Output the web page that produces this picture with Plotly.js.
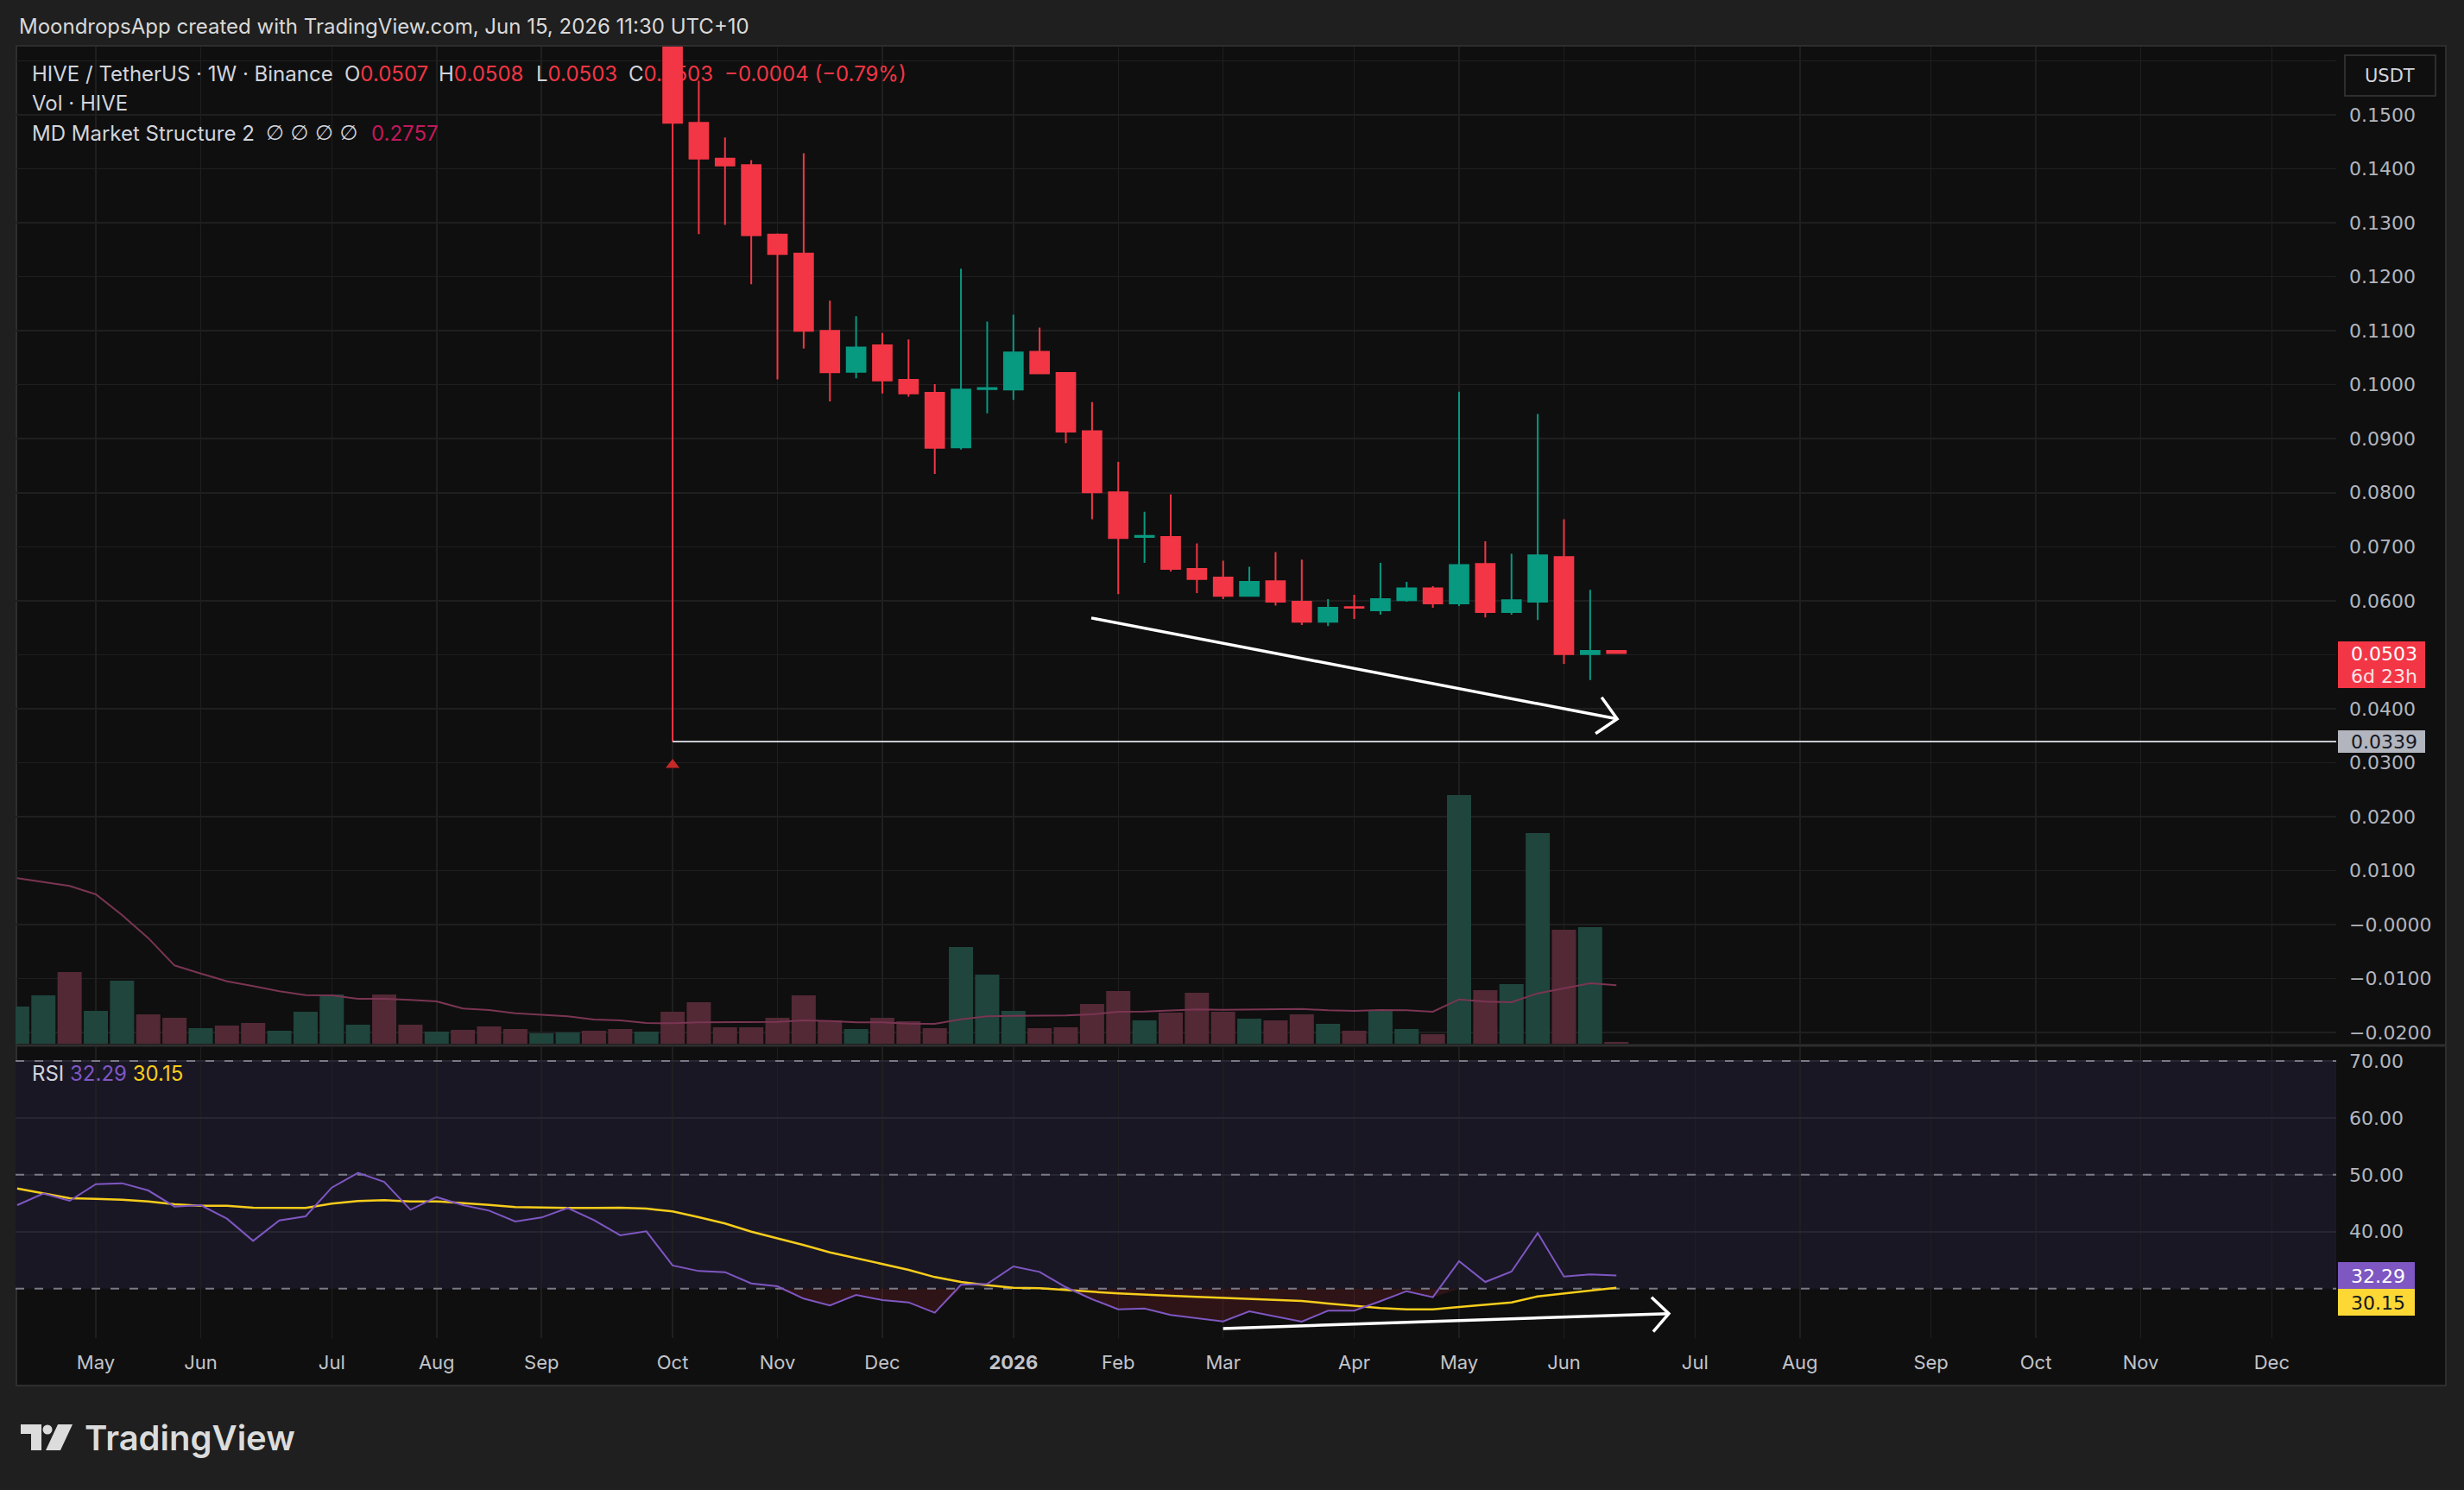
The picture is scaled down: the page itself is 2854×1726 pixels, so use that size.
<!DOCTYPE html>
<html><head><meta charset="utf-8">
<script src="https://cdn.plot.ly/plotly-3.0.1.min.js"></script>
<style>html,body{margin:0;padding:0;background:#1f1f1f;}#chart{width:2854px;height:1726px;}</style>
</head><body><div id="chart"></div>
<script>
// ---------- DATA ----------
const weeks = ["2025-04-14","2025-04-21","2025-04-28","2025-05-05","2025-05-12","2025-05-19","2025-05-26","2025-06-02","2025-06-09","2025-06-16","2025-06-23","2025-06-30","2025-07-07","2025-07-14","2025-07-21","2025-07-28","2025-08-04","2025-08-11","2025-08-18","2025-08-25","2025-09-01","2025-09-08","2025-09-15","2025-09-22","2025-09-29","2025-10-06","2025-10-13","2025-10-20","2025-10-27","2025-11-03","2025-11-10","2025-11-17","2025-11-24","2025-12-01","2025-12-08","2025-12-15","2025-12-22","2025-12-29","2026-01-05","2026-01-12","2026-01-19","2026-01-26","2026-02-02","2026-02-09","2026-02-16","2026-02-23","2026-03-02","2026-03-09","2026-03-16","2026-03-23","2026-03-30","2026-04-06","2026-04-13","2026-04-20","2026-04-27","2026-05-04","2026-05-11","2026-05-18","2026-05-25","2026-06-01","2026-06-08","2026-06-15"];

// weekly candles from 2025-10-06 (earlier candles sit above the visible price range)
const candleDates = weeks.slice(25);
const open  = [0.1800,0.1485,0.1419,0.1407,0.1278,0.1243,0.1100,0.1024,0.1073,0.1009,0.0985,0.0884,0.0992,0.0991,0.1061,0.1022,0.0914,0.0801,0.0718,0.0718,0.0659,0.0643,0.0609,0.0636,0.0598,0.0561,0.0588,0.0582,0.0601,0.0623,0.0595,0.0668,0.0579,0.0598,0.0681,0.0501,0.0507];
const high  = [0.1900,0.1563,0.1458,0.1416,0.1280,0.1429,0.1156,0.1127,0.1096,0.1084,0.1001,0.1215,0.1117,0.1130,0.1106,0.1022,0.0968,0.0857,0.0765,0.0797,0.0706,0.0674,0.0663,0.0690,0.0676,0.0603,0.0611,0.0670,0.0635,0.0627,0.0987,0.0710,0.0687,0.0946,0.0751,0.0620,0.0508];
const low   = [0.0339,0.1279,0.1296,0.1186,0.1010,0.1067,0.0969,0.1012,0.0984,0.0978,0.0835,0.0880,0.0947,0.0972,0.1020,0.0892,0.0751,0.0612,0.0670,0.0654,0.0614,0.0603,0.0609,0.0591,0.0555,0.0553,0.0566,0.0574,0.0598,0.0587,0.0590,0.0569,0.0574,0.0564,0.0483,0.0453,0.0503];
const close = [0.1485,0.1419,0.1406,0.1277,0.1242,0.1100,0.1023,0.1069,0.1008,0.0984,0.0883,0.0991,0.0994,0.1060,0.1021,0.0913,0.0801,0.0716,0.0720,0.0659,0.0640,0.0609,0.0635,0.0598,0.0561,0.0587,0.0587,0.0603,0.0623,0.0595,0.0666,0.0579,0.0601,0.0684,0.0501,0.0507,0.0503];

// volume (estimated, millions HIVE) for every week, and direction of the weeks before the visible candles
const volume = [12.9,16.8,24.9,11.4,21.9,10.2,9.0,5.4,6.3,7.2,4.5,11.1,17.1,6.6,17.1,6.6,4.2,4.8,6.0,5.1,3.6,3.9,4.5,5.1,4.2,
  11.1,14.4,5.7,5.7,9.0,16.8,8.1,5.1,9.0,7.8,5.4,33.6,24.0,11.4,5.4,5.7,13.8,18.3,8.1,10.8,17.7,11.1,8.7,8.1,10.2,6.9,4.5,11.4,5.1,3.3,86.4,18.6,20.7,73.2,39.6,40.5,0.6];
const preVolDir = ["u","u","d","u","u","d","d","u","d","d","u","u","u","u","d","d","u","d","d","d","u","u","d","d","u"];
const volumeMA = [57.5,56.1,54.8,51.9,44.7,36.7,27.2,24.4,21.7,20.0,18.2,16.9,16.8,15.6,15.6,15.2,14.7,12.2,11.7,10.6,10.1,9.5,8.4,8.1,7.2,
  7.1,7.4,7.5,7.5,7.6,8.1,7.9,7.4,7.4,7.0,6.9,8.5,9.5,9.7,9.8,9.8,10.2,11.1,11.2,11.5,11.9,11.8,11.9,12.0,12.1,11.6,11.4,11.7,11.6,11.1,15.4,14.6,14.4,17.5,19.2,21.0,20.3];

// RSI and its moving average
const rsi = [44.66,46.69,45.42,48.36,48.51,47.24,44.41,44.66,42.29,38.39,41.98,42.69,47.75,50.33,48.76,43.86,46.08,44.66,43.70,41.78,42.49,44.16,42.04,39.36,40.06,
  34.05,33.08,32.88,30.91,30.40,28.23,27.02,28.89,27.98,27.57,25.75,30.66,30.81,33.89,32.93,30.25,28.13,26.36,26.51,25.35,24.84,
  24.23,26.00,25.09,24.18,26.11,26.11,27.78,29.54,28.48,34.80,31.16,32.98,39.76,32.12,32.48,32.29];
const rsiMA = [47.60,46.69,45.88,45.78,45.63,45.32,44.82,44.56,44.56,44.21,44.16,44.16,44.92,45.37,45.52,45.32,45.32,45.07,44.72,44.31,44.21,44.16,44.16,44.21,44.06,
  43.55,42.54,41.43,40.01,38.85,37.64,36.37,35.31,34.25,33.29,32.02,31.16,30.61,30.15,30.05,29.80,29.44,29.14,28.89,28.74,28.53,
  28.33,28.18,28.03,27.83,27.37,26.97,26.56,26.36,26.36,26.76,27.12,27.57,28.63,29.09,29.65,30.15];
const rsiLevels = [70, 50, 30];

// market-structure low marker
const msMarkerDate = ["2025-10-06"];
const msMarkerPrice = [0.0296];
const keyLow = 0.0339;

// hand-drawn trend arrows (date, value)
const priceArrowX = ["2026-01-25 19:00","2026-06-15 05:00"];
const priceArrowY = [0.0568,0.0381];
const rsiArrowX = ["2026-03-02 00:00","2026-06-29 00:00"];
const rsiArrowY = [22.98,25.6];

// axes ticks
const monthTickVals = ["2025-05-05","2025-06-02","2025-07-07","2025-08-04","2025-09-01","2025-10-06","2025-11-03","2025-12-01","2026-01-05","2026-02-02","2026-03-02","2026-04-06","2026-05-04","2026-06-01","2026-07-06","2026-08-03","2026-09-07","2026-10-05","2026-11-02","2026-12-07"];
const monthTickText = ["May","Jun","Jul","Aug","Sep","Oct","Nov","Dec","<b>2026</b>","Feb","Mar","Apr","May","Jun","Jul","Aug","Sep","Oct","Nov","Dec"];
const priceTicks = [0.16,0.15,0.14,0.13,0.12,0.11,0.10,0.09,0.08,0.07,0.06,0.05,0.04,0.03,0.02,0.01,0.00,-0.01,-0.02];
const priceTickText = ["","0.1500","0.1400","0.1300","0.1200","0.1100","0.1000","0.0900","0.0800","0.0700","0.0600","0.0500","0.0400","0.0300","0.0200","0.0100","\u22120.0000","\u22120.0100","\u22120.0200"];
const rsiTicks = [40,50,60,70];
const rsiTickText = ["40.00","50.00","60.00","70.00"];

// ---------- LAYOUT GEOMETRY ----------
const FONT = "Inter, Roboto, 'DejaVu Sans', sans-serif";
const AXFONT = "'DejaVu Sans', Inter, sans-serif";
const L = 18, R = 2706, T = 54, B = 1550;
const PW = R - L, PH = B - T;
const X = v => (v - L) / PW;
const Y = v => (B - v) / PH;
const xRange = ["2025-04-13 13:26", "2026-12-24 05:00"];

const UP = "#089981", DN = "#f23645";
const volColors = volume.map((v, i) => {
  const d = i < 25 ? preVolDir[i] : (close[i-25] >= open[i-25] ? "u" : "d");
  return d === "u" ? "#1f453d" : "#532936";
});
const rsiBase = rsi.map(() => 30);
const rsiLow = rsi.map(v => Math.min(v, 30));

const traces = [
  {type:"bar", x:weeks, y:volume, xaxis:"x", yaxis:"y3", marker:{color:volColors, line:{width:0}}, hoverinfo:"skip"},
  {type:"scatter", mode:"lines", x:weeks, y:volumeMA, xaxis:"x", yaxis:"y3", line:{color:"#7a3552", width:2}, hoverinfo:"skip"},
  {type:"candlestick", x:candleDates, open:open, high:high, low:low, close:close, xaxis:"x", yaxis:"y",
   increasing:{line:{color:UP, width:2}, fillcolor:UP}, decreasing:{line:{color:DN, width:2}, fillcolor:DN},
   whiskerwidth:0, hoverinfo:"skip"},
  {type:"scatter", mode:"markers", x:msMarkerDate, y:msMarkerPrice, xaxis:"x", yaxis:"y",
   marker:{symbol:"triangle-up", size:14, color:"#c62828"}, hoverinfo:"skip"},
  {type:"scatter", mode:"lines", x:weeks, y:rsiBase, xaxis:"x", yaxis:"y2", line:{width:0, color:"rgba(0,0,0,0)"}, hoverinfo:"skip"},
  {type:"scatter", mode:"lines", x:weeks, y:rsiLow, xaxis:"x", yaxis:"y2", line:{width:0, color:"rgba(0,0,0,0)"}, fill:"tonexty", fillcolor:"rgba(160,40,55,0.22)", hoverinfo:"skip"},
  // dashed RSI levels drawn as traces so they sit above the band but below the RSI lines
  ...rsiLevels.map(v => ({type:"scatter", mode:"lines", x:[xRange[0], xRange[1]], y:[v, v], xaxis:"x", yaxis:"y2",
    line:{color:"#787b86", width:2, dash:"10px,12px"}, hoverinfo:"skip"})),
  {type:"scatter", mode:"lines", x:weeks, y:rsiMA, xaxis:"x", yaxis:"y2", line:{color:"#f7cd1b", width:2.5}, hoverinfo:"skip"},
  {type:"scatter", mode:"lines", x:weeks, y:rsi, xaxis:"x", yaxis:"y2", line:{color:"#7e57c2", width:2}, hoverinfo:"skip"}
];

function rect(x0,y0,x1,y1,fill,lineColor,lw,layer){
  return {type:"rect", xref:"paper", yref:"paper", x0:X(x0), x1:X(x1), y0:Y(y0), y1:Y(y1),
    fillcolor:fill, line:{color:lineColor||fill, width:lw||0}, layer:layer||"above"};
}
function txt(t, x, y, size, color, extra, family){
  return Object.assign({xref:"paper", yref:"paper", x:X(x), y:Y(y), xanchor:"left", yanchor:"middle",
    text:t, showarrow:false, borderpad:0, font:{family:family||FONT, size:size, color:color}}, extra||{});
}
function chevron(xa, ya, yref, up, lo){
  // arm offsets given in screen pixels (y down); pixel shapes use y up
  return {type:"path", xref:"x", yref:yref, xsizemode:"pixel", ysizemode:"pixel", xanchor:xa, yanchor:ya,
    path:"M " + up[0] + "," + (-up[1]) + " L 0,0 L " + lo[0] + "," + (-lo[1]), line:{color:"#ffffff", width:3.5}};
}

const shapes = [
  rect(19,53,2833,1605,"#0f0f0f","#2e2e2e",2,"below"),
  {type:"rect", xref:"x domain", yref:"y2", x0:0, x1:1, y0:30, y1:70, fillcolor:"#1a1725", line:{width:0}, layer:"below"},
  {type:"line", xref:"paper", yref:"paper", x0:X(19), x1:X(2833), y0:Y(1211), y1:Y(1211), line:{color:"#2e2e2e", width:3}},
  {type:"line", xref:"x", yref:"y", x0:candleDates[0], x1:xRange[1], y0:keyLow, y1:keyLow, line:{color:"#c9cbd1", width:2}},
  {type:"line", xref:"x", yref:"y", x0:priceArrowX[0], y0:priceArrowY[0], x1:priceArrowX[1], y1:priceArrowY[1], line:{color:"#ffffff", width:3.5}},
  chevron(priceArrowX[1], priceArrowY[1], "y", [-18,-25], [-25,17]),
  {type:"line", xref:"x", yref:"y2", x0:rsiArrowX[0], y0:rsiArrowY[0], x1:rsiArrowX[1], y1:rsiArrowY[1], line:{color:"#ffffff", width:3.5}},
  chevron(rsiArrowX[1], rsiArrowY[1], "y2", [-20,-19], [-18,21]),
  // axis badges
  {type:"rect", xref:"paper", yref:"paper", x0:X(2716), x1:X(2821), y0:Y(64), y1:Y(111), fillcolor:"#0f0f0f", line:{color:"#3a3a3a", width:1.5}},
  rect(2708,743,2809,797,"#f23645"),
  rect(2708,846,2809,872,"#b2b5be"),
  rect(2708,1462,2797,1493,"#7e57c2"),
  rect(2708,1493,2797,1524,"#fdd835")
];

const lastClose = close[close.length-1];
const annotations = [
  txt("MoondropsApp created with TradingView.com, Jun 15, 2026 11:30 UTC+10", 21, 31, 24, "#d9d9d9"),
  txt("HIVE / TetherUS · 1W · Binance", 36, 85, 24, "#d1d4dc"),
  txt("O<span style='color:#f23645'>" + open[open.length-1].toFixed(4) + "</span>", 398, 85, 24, "#d1d4dc"),
  txt("H<span style='color:#f23645'>" + high[high.length-1].toFixed(4) + "</span>", 507, 85, 24, "#d1d4dc"),
  txt("L<span style='color:#f23645'>" + low[low.length-1].toFixed(4) + "</span>", 620, 85, 24, "#d1d4dc"),
  txt("C<span style='color:#f23645'>" + lastClose.toFixed(4) + "</span>", 727, 85, 24, "#d1d4dc"),
  txt("\u22120.0004 (\u22120.79%)", 838, 85, 24, "#f23645"),
  txt("Vol · HIVE", 36, 119, 24, "#d1d4dc"),
  txt("MD Market Structure 2", 36, 154, 24, "#d1d4dc"),
  txt("\u2205 \u2205 \u2205 \u2205", 307, 154, 24, "#d1d4dc", null, "'DejaVu Sans', sans-serif"),
  txt("0.2757", 429, 154, 24, "#c2185b"),
  txt("RSI <span style='color:#7e57c2'>" + rsi[rsi.length-1].toFixed(2) + "</span> <span style='color:#f7cd1b'>" + rsiMA[rsiMA.length-1].toFixed(2) + "</span>", 36, 1243, 24, "#d1d4dc"),
  txt("USDT", 2768, 88, 21, "#d1d4dc", {xanchor:"center"}, AXFONT),
  txt(lastClose.toFixed(4), 2722, 757, 22, "#ffffff", null, AXFONT),
  txt("6d 23h", 2722, 783, 22, "#fde2e4", null, AXFONT),
  txt(keyLow.toFixed(4), 2722, 859, 22, "#131722", null, AXFONT),
  txt(rsi[rsi.length-1].toFixed(2), 2722, 1478, 22, "#ffffff", null, AXFONT),
  txt(rsiMA[rsiMA.length-1].toFixed(2), 2722, 1509, 22, "#131722", null, AXFONT),
  {xref:"paper", yref:"paper", x:X(97), y:Y(1665), xanchor:"left", yanchor:"middle", text:"TradingView", showarrow:false,
   borderpad:0, font:{family:FONT, size:40, color:"#dcdcdc", weight:600}}
];

const logoSvg = "<svg xmlns='http://www.w3.org/2000/svg' width='60' height='30' viewBox='0 0 60 30'>" +
  "<rect x='0' y='0' width='24' height='11' fill='#dcdcdc'/><rect x='12' y='0' width='12' height='30' fill='#dcdcdc'/>" +
  "<circle cx='31' cy='6' r='5.5' fill='#dcdcdc'/><polygon points='43,0 60,0 46,30 29,30' fill='#dcdcdc'/></svg>";

const axisFont = {family:AXFONT, size:22, color:"#b2b5be"};
const layout = {
  width:2854, height:1726,
  paper_bgcolor:"#1f1f1f", plot_bgcolor:"rgba(0,0,0,0)",
  margin:{l:L, r:2854-R, t:T, b:1726-B, autoexpand:false},
  showlegend:false, hovermode:false, bargap:0.078, boxgap:0.285, boxgroupgap:0,
  font:{family:FONT, color:"#d1d4dc"},
  xaxis:{type:"date", range:xRange, anchor:"y2", rangeslider:{visible:false},
    tickvals:monthTickVals, ticktext:monthTickText, tickfont:{family:FONT, size:22, color:"#c2c4ca"},
    showgrid:true, gridcolor:"#1f1f1f", gridwidth:1.5, zeroline:false, showline:false, ticks:"", ticklabelstandoff:13},
  yaxis:{domain:[Y(1209), 1], range:[-0.02205, 0.16263], side:"right", tickvals:priceTicks, ticktext:priceTickText,
    tickfont:axisFont, showgrid:true, gridcolor:"#1f1f1f", gridwidth:1.5, zeroline:false, showline:false, ticks:"", ticklabelstandoff:14},
  yaxis2:{domain:[0, Y(1213)], range:[21.30, 72.43], side:"right", tickvals:rsiTicks, ticktext:rsiTickText,
    tickfont:axisFont, showgrid:true, gridcolor:"#282632", gridwidth:1.5, zeroline:false, showline:false, ticks:"", ticklabelstandoff:14},
  yaxis3:{overlaying:"y", range:[0, 346.5], visible:false, showgrid:false, zeroline:false},
  shapes:shapes, annotations:annotations,
  images:[{source:"data:image/svg+xml;utf8," + encodeURIComponent(logoSvg), xref:"paper", yref:"paper",
    x:X(24), y:Y(1650), sizex:60/PW, sizey:30/PH, xanchor:"left", yanchor:"top", sizing:"stretch", layer:"above"}]
};

Plotly.newPlot("chart", traces, layout, {staticPlot:true, displayModeBar:false});
</script></body></html>
